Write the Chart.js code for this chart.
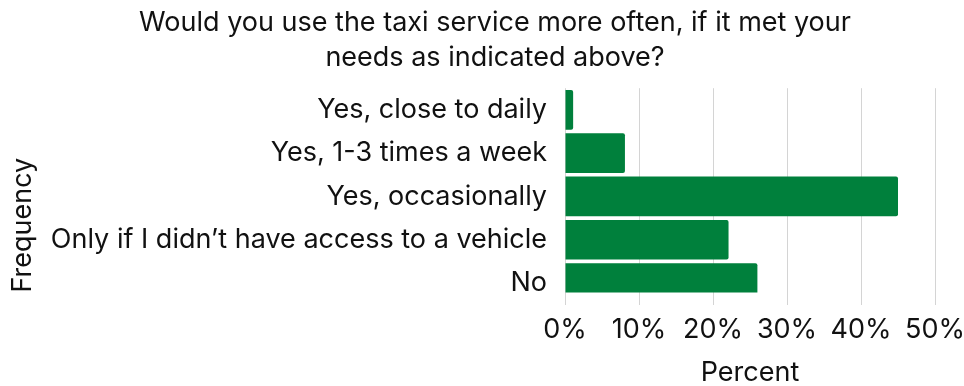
<!DOCTYPE html>
<html>
<head>
<meta charset="utf-8">
<script src="https://cdn.jsdelivr.net/npm/chart.js@4"></script>
<style>
  html, body { margin: 0; padding: 0; background: #fff; }
  #wrap { width: 964px; height: 386px; }
</style>
</head>
<body>
<div id="wrap"><canvas id="chart"></canvas></div>
<script>
const TITLE_LINES = [
  'Would you use the taxi service more often, if it met your',
  'needs as indicated above?',
];
const categories = [
  'Yes, close to daily',
  'Yes, 1-3 times a week',
  'Yes, occasionally',
  'Only if I didn\u2019t have access to a vehicle',
  'No',
];
const percentValues = [1.1, 8.1, 45, 22.1, 26];
const xTickValues = [0, 10, 20, 30, 40, 50];
const xTickLabels = ['0%', '10%', '20%', '30%', '40%', '50%'];

const BAR_GREEN = '#00803c';
const FONT = 'Inter, "Open Sans", sans-serif';

Chart.defaults.font.family = FONT;
Chart.defaults.color = '#111';

// The left padding only exists to push the title right; give the y axis
// the full left side back so long labels are not clipped, and lift its title.
const yAxisStretch = {
  id: 'yAxisStretch',
  afterLayout: (chart) => {
    let y = chart.scales.y;
    y.left = 0;
    y.bottom = chart.chartArea.bottom - 12;
  },
};

let ctx = document.getElementById('chart');
new Chart(ctx, {
  type: 'bar',
  data: {
    labels: categories,
    datasets: [{
      data: percentValues,
      backgroundColor: BAR_GREEN,
      borderRadius: 2,
      borderSkipped: 'start',
      barPercentage: 0.915,
      categoryPercentage: 1,
    }],
  },
  plugins: [yAxisStretch],
  options: {
    indexAxis: 'y',
    responsive: true,
    maintainAspectRatio: false,
    animation: false,
    layout: { padding: { left: 55, right: 29, top: 0, bottom: 0 } },
    plugins: {
      legend: { display: false },
      tooltip: { enabled: false },
      title: {
        display: true,
        text: TITLE_LINES,
        color: '#111',
        font: { size: 27, weight: 'normal', lineHeight: 1.3 },
        padding: { top: 5, bottom: 13 },
      },
    },
    scales: {
      x: {
        min: 0,
        max: 50,
        afterBuildTicks: (scale) => {
          scale.ticks = xTickValues.map((v) => ({ value: v }));
        },
        afterFit: (scale) => {
          // let the layout padding decide the right edge
          scale.paddingLeft = 0;
          scale.paddingRight = 0;
        },
        ticks: {
          font: { size: 27 },
          padding: 9,
          callback: (v) => xTickLabels[xTickValues.indexOf(v)],
        },
        grid: { color: '#d4d4d4', drawTicks: false },
        border: { display: false },
        title: {
          display: true,
          text: 'Percent',
          font: { size: 27, lineHeight: 1.0 },
          padding: { top: 4, bottom: 0 },
        },
      },
      y: {
        afterFit: (scale) => {
          scale.width = 510;
        },
        ticks: { font: { size: 27 }, padding: 18 },
        grid: { display: false, drawTicks: false },
        border: { display: false },
        title: {
          display: true,
          text: 'Frequency',
          align: 'start',
          font: { size: 27 },
          padding: { top: 7, bottom: 0 },
        },
      },
    },
  },
});
</script>
</body>
</html>
